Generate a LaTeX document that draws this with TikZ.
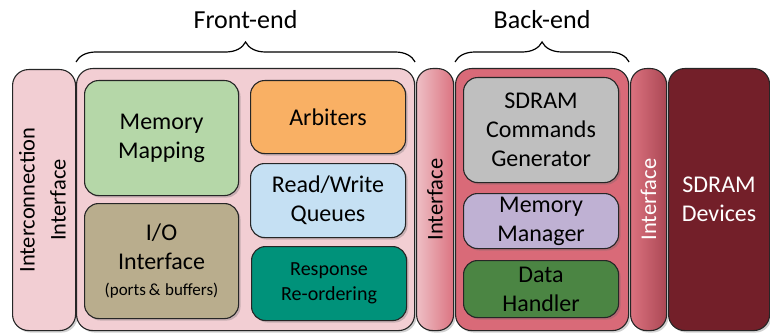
\documentclass[tikz,border=0pt]{standalone}
\usepackage{fontspec}
\usepackage{graphicx}
\setmainfont{Carlito}
\usetikzlibrary{shadows,decorations.pathreplacing}

\definecolor{pinkbg}{HTML}{F2CED3}
\definecolor{mapgreen}{HTML}{B5D7A8}
\definecolor{arborange}{HTML}{F9B064}
\definecolor{queueblue}{HTML}{C5E0F3}
\definecolor{reorderteal}{HTML}{00927A}
\definecolor{iotan}{HTML}{B9AD8D}
\definecolor{cmdgrey}{HTML}{BFBFBF}
\definecolor{mgrlavender}{HTML}{BFB1D3}
\definecolor{datagreen}{HTML}{4B8543}
\definecolor{backred}{HTML}{D96A78}
\definecolor{devred}{HTML}{731F29}

\tikzset{
	block/.style={draw=black!85, line width=1.1pt, rounded corners=14pt, anchor=north west,
		align=center, inner sep=0pt, font=\fontsize{24}{29}\selectfont,
		drop shadow={shadow xshift=2pt, shadow yshift=-2pt, opacity=0.3, fill=black!60}},
	outer/.style={block, rounded corners=16pt},
	iflabel/.style={font=\fontsize{22.5}{31}\selectfont},
	brc/.style={decorate, decoration={brace, amplitude=20pt}, line width=1.2pt},
	title/.style={inner sep=0pt, font=\fontsize{26}{30}\selectfont},
}

\begin{document}
\begin{tikzpicture}[x=1pt,y=-1pt]
	\useasboundingbox (0,0) rectangle (770,334);
	\node[outer, iflabel, fill=pinkbg, minimum width=63pt, minimum height=261pt] (intercon) at (12,69)
		{\rotatebox{90}{\begin{tabular}{@{}c@{}}Interconnection\\Interface\end{tabular}}};
	\node[outer, fill=pinkbg, minimum width=338pt, minimum height=262pt] (frontend) at (76,68) {};
	\node[block, fill=mapgreen, minimum width=154pt, minimum height=115pt] (memmap) at (84,80) {Memory\\Mapping};
	\node[block, fill=iotan, minimum width=154pt, minimum height=115pt] (iointf) at (84,203)
		{I/O\\Interface\\[-3pt]{\fontsize{17}{20}\selectfont (ports\,\&\;buffers)}};
	\node[block, fill=arborange, minimum width=155pt, minimum height=73pt] (arbiters) at (250,80) {Arbiters};
	\node[block, fill=queueblue, minimum width=155pt, minimum height=74pt] (rwqueues) at (250,163) {Read/Write\\Queues};
	\node[block, fill=reorderteal, minimum width=155pt, minimum height=74pt, font=\fontsize{20}{25}\selectfont] (reorder) at (251,246) {Response\\Re-ordering};
	\node[outer, iflabel, left color=pinkbg!85!backred, right color=backred!90!pinkbg, minimum width=37pt, minimum height=262pt] (midif) at (416,68)
		{\rotatebox{90}{Interface}};
	\node[outer, fill=backred, minimum width=173pt, minimum height=262pt] (backend) at (455,68) {};
	\node[block, fill=cmdgrey, minimum width=155pt, minimum height=105pt] (cmdgen) at (463,77) {SDRAM\\Commands\\Generator};
	\node[block, fill=mgrlavender, minimum width=155pt, minimum height=55pt] (memmgr) at (463,193) {Memory\\Manager};
	\node[block, fill=datagreen, minimum width=155pt, minimum height=57pt] (datahdl) at (463,260) {Data\\Handler};
	\node[outer, iflabel, left color=backred!95!white, right color=backred!55!devred, text=white, minimum width=36pt, minimum height=262pt] (rightif) at (630,68)
		{\rotatebox{90}{Interface}};
	\node[outer, fill=devred, text=white, minimum width=101pt, minimum height=262pt] (devices) at (668,68) {SDRAM\\Devices};
	\draw[brc] ([yshift=6pt]frontend.north west) -- ([yshift=6pt]frontend.north east)
		node[midway, above=33pt, title] (fetitle) {Front-end};
	\draw[brc] ([yshift=6pt]backend.north west) -- ([yshift=6pt]backend.north east)
		node[midway, above=33pt, title] (betitle) {Back-end};
\end{tikzpicture}
\end{document}
